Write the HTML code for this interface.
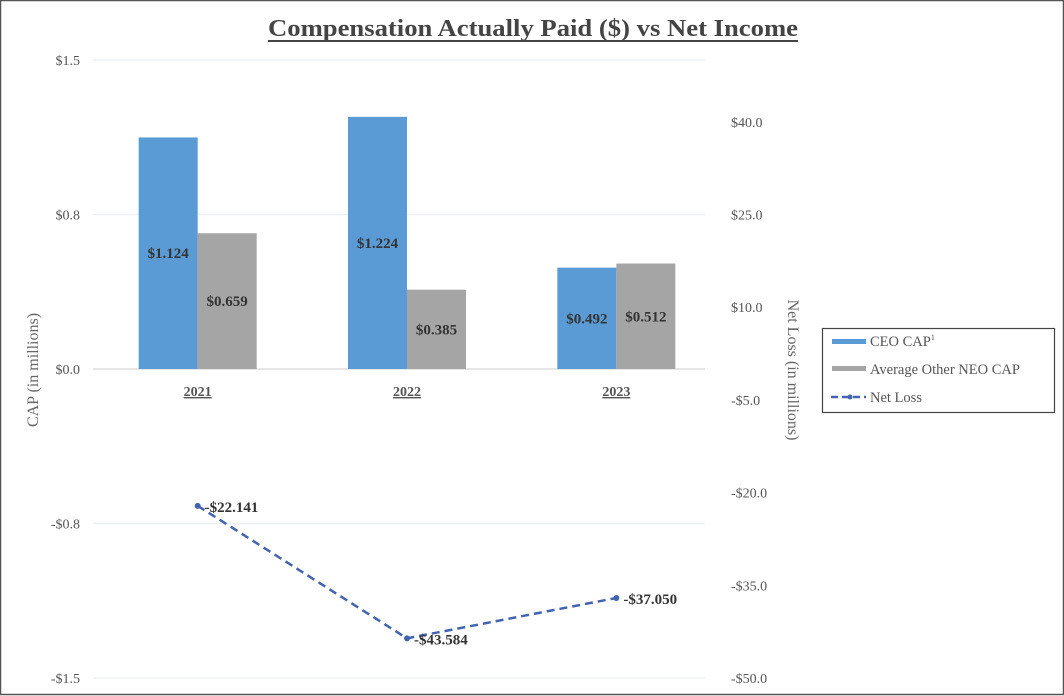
<!DOCTYPE html>
<html><head><meta charset="utf-8"><style>
html,body{margin:0;padding:0;background:#fff}
svg{display:block;font-family:"Liberation Serif",serif}
</style></head><body>
<svg id="chart" width="1064" height="696" viewBox="0 0 1064 696" xmlns="http://www.w3.org/2000/svg">
<rect x="0.5" y="0.5" width="1063" height="694" fill="#fff" stroke="#555" stroke-width="1.5"/>
<text x="533" y="36" text-anchor="middle" font-size="24" font-weight="bold" fill="#444" textLength="530" lengthAdjust="spacingAndGlyphs">Compensation Actually Paid ($) vs Net Income</text>
<line x1="268" y1="41" x2="798" y2="41" stroke="#444" stroke-width="2"/>
<g id="grid"></g><g id="bars"></g><g id="line"></g><g id="axes"></g>
<text transform="translate(38,370) rotate(-90)" text-anchor="middle" font-size="16" fill="#666">CAP (in millions)</text>
<text transform="translate(788,370) rotate(90)" text-anchor="middle" font-size="16" fill="#666">Net Loss (in millions)</text>
<g>
<rect x="822.5" y="328.5" width="232" height="84" fill="#fff" stroke="#444" stroke-width="1.2"/>
<g><rect x="832" y="339" width="34" height="5" fill="#5b9bd5"/><text x="870" y="346" font-size="14.5" fill="#555">CEO CAP<tspan font-size="8" dy="-6">1</tspan></text></g>
<g><rect x="832" y="366" width="34" height="5" fill="#a5a5a5"/><text x="870" y="374" font-size="14.5" fill="#555">Average Other NEO CAP</text></g>
<g><line x1="831" y1="397" x2="866" y2="397" stroke="#4263b0" stroke-width="2.5" stroke-dasharray="7,4"/><circle cx="850" cy="397" r="2.5" fill="#4263b0"/><text x="870" y="402" font-size="14.5" fill="#555">Net Loss</text></g>
</g>
</svg>
<script>
const categories = ["2021","2022","2023"];
const ceoCap = [1.124, 1.224, 0.492];
const neoCap = [0.659, 0.385, 0.512];
const netLoss = [-22.141, -43.584, -37.050];
const leftTicks = [1.5, 0.75, 0, -0.75, -1.5];
const leftTickLabels = ["$1.5","$0.8","$0.0","-$0.8","-$1.5"];
const rightTicks = [40, 25, 10, -5, -20, -35, -50];
const rightTickLabels = ["$40.0","$25.0","$10.0","-$5.0","-$20.0","-$35.0","-$50.0"];

const NS="http://www.w3.org/2000/svg";
const plotL=93, plotR=721, zeroY=369;
const yL=v=>zeroY-v*206;
const yR=v=>zeroY-v*(309/50);
const band=(plotR-plotL)/categories.length;
const xC=i=>plotL+band*(i+0.5);
const barW=59;
function mk(tag,attrs,parent,txt){const e=document.createElementNS(NS,tag);for(const k in attrs)e.setAttribute(k,attrs[k]);if(txt!=null)e.textContent=txt;parent.appendChild(e);return e;}
const grid=document.getElementById('grid'),bars=document.getElementById('bars'),line=document.getElementById('line'),axes=document.getElementById('axes');
leftTicks.forEach((t,i)=>{
  const g=mk('line',{x1:plotL,x2:705,y1:yL(t),y2:yL(t),stroke:t===0?'#ddd':'#eef0f3','stroke-width':1.5},grid);
  
  
  const l=mk('text',{x:80,y:yL(t)+5,'text-anchor':'end','font-size':14,fill:'#555'},axes,leftTickLabels[i]);
  
  
});
rightTicks.forEach((t,i)=>{
  const l=mk('text',{x:731,y:yR(t)+5,'font-size':14,fill:'#555'},axes,rightTickLabels[i]);
  
  
});
categories.forEach((c,i)=>{
  const cx=xC(i);
  const b1=mk('rect',{x:cx-barW,y:yL(ceoCap[i]),width:barW,height:zeroY-yL(ceoCap[i]),fill:'#5b9bd5'},bars);
  
  
  const b2=mk('rect',{x:cx,y:yL(neoCap[i]),width:barW,height:zeroY-yL(neoCap[i]),fill:'#a5a5a5'},bars);
  
  
  const t1=mk('text',{x:cx-barW/2,y:(yL(ceoCap[i])+zeroY)/2+5,'text-anchor':'middle','font-size':15,'font-weight':'bold',fill:'#333'},bars,'$'+ceoCap[i].toFixed(3));
  
  
  const t2=mk('text',{x:cx+barW/2,y:(yL(neoCap[i])+zeroY)/2+5,'text-anchor':'middle','font-size':15,'font-weight':'bold',fill:'#333'},bars,'$'+neoCap[i].toFixed(3));
  
  
  const xl=mk('text',{x:cx,y:396,'text-anchor':'middle','font-size':14,'font-weight':'bold',fill:'#555','text-decoration':'underline'},axes,c);
  
  
});
const pts=netLoss.map((v,i)=>xC(i)+','+yR(v)).join(' ');
const pl=mk('polyline',{points:pts,fill:'none',stroke:'#4263b0','stroke-width':2.5,'stroke-dasharray':'8,5'},line);


netLoss.forEach((v,i)=>{
  const p=mk('circle',{cx:xC(i),cy:yR(v),r:3,fill:'#4263b0'},line);
  
  
  const t=mk('text',{x:xC(i)+7,y:yR(v)+6,'font-size':15,'font-weight':'bold',fill:'#333'},line,'-$'+Math.abs(v).toFixed(3));
  
  
});
</script>
</body></html>
